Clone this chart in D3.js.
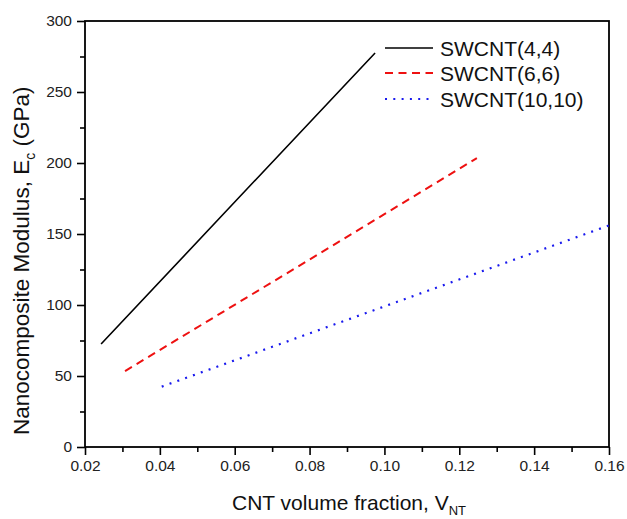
<!DOCTYPE html>
<html>
<head>
<meta charset="utf-8">
<script src="https://cdn.jsdelivr.net/npm/d3@7"></script>
<style>
  html, body { margin: 0; padding: 0; background: #fff; }
  svg { display: block; font-family: Arial, "Liberation Sans", sans-serif; }
</style>
</head>
<body>
<svg id="chart" width="627" height="519"></svg>
<script>
// Elastic modulus of the nanocomposite versus CNT volume fraction
const seriesNames = ["SWCNT(4,4)", "SWCNT(6,6)", "SWCNT(10,10)"];
const fraction44 = [0.0243, 0.060, 0.0975];
const modulus44  = [72.5, 172.5, 277.5];
const fraction66 = [0.0307, 0.080, 0.1247];
const modulus66  = [53.5, 132, 203.5];
const fraction1010 = [0.0405, 0.100, 0.160];
const modulus1010  = [42.5, 99, 156];
const xTicks = [0.02, 0.04, 0.06, 0.08, 0.10, 0.12, 0.14, 0.16];
const xMinorTicks = [0.03, 0.05, 0.07, 0.09, 0.11, 0.13, 0.15];
const yTicks = [0, 50, 100, 150, 200, 250, 300];
const yMinorTicks = [25, 75, 125, 175, 225, 275];

const colors = ["#000000", "#ee1111", "#1a1aee"];
const dashes = [null, "8,5.5", "2,6.3"];
const widths = [1.6, 2, 2.2];

const svg = d3.select("#chart");
const plotLeft = 85, plotRight = 609, plotTop = 21, plotBottom = 447;

const x = d3.scaleLinear().domain([0.02, 0.16]).range([plotLeft, plotRight]);
const y = d3.scaleLinear().domain([0, 300]).range([plotBottom, plotTop]);

const series = [
  fraction44.map((v, i) => [v, modulus44[i]]),
  fraction66.map((v, i) => [v, modulus66[i]]),
  fraction1010.map((v, i) => [v, modulus1010[i]])
];

// frame
svg.append("rect")
  .attr("x", plotLeft).attr("y", plotTop)
  .attr("width", plotRight - plotLeft).attr("height", plotBottom - plotTop)
  .attr("fill", "none").attr("stroke", "#000").attr("stroke-width", 1.8);

// x axis
svg.append("g").attr("transform", `translate(0,${plotBottom})`)
  .call(d3.axisBottom(x).tickValues(xTicks).tickFormat(d3.format(".2f")).tickSize(8).tickPadding(5));
svg.append("g").attr("transform", `translate(0,${plotBottom})`)
  .call(d3.axisBottom(x).tickValues(xMinorTicks).tickFormat("").tickSize(5));

// y axis
svg.append("g").attr("transform", `translate(${plotLeft},0)`)
  .call(d3.axisLeft(y).tickValues(yTicks).tickFormat(d3.format("d")).tickSize(8).tickPadding(5));
svg.append("g").attr("transform", `translate(${plotLeft},0)`)
  .call(d3.axisLeft(y).tickValues(yMinorTicks).tickFormat("").tickSize(5));

svg.selectAll(".domain").remove();
svg.selectAll(".tick line").attr("stroke", "#000").attr("stroke-width", 1.6);
svg.selectAll(".tick text").attr("fill", "#222").style("font-size", "15.5px")
  .style("font-family", "Arial, 'Liberation Sans', sans-serif");

// data lines
const line = d3.line().x(d => x(d[0])).y(d => y(d[1]));
series.forEach((pts, i) => {
  svg.append("path")
    .datum(pts)
    .attr("d", line)
    .attr("fill", "none")
    .attr("stroke", colors[i])
    .attr("stroke-width", widths[i])
    .attr("stroke-dasharray", dashes[i]);
});

// legend
const legend = svg.append("g");
const legendY = [48, 73, 99];
seriesNames.forEach((name, i) => {
  legend.append("line")
    .attr("x1", 385).attr("x2", 433)
    .attr("y1", legendY[i]).attr("y2", legendY[i])
    .attr("stroke", colors[i]).attr("stroke-width", widths[i])
    .attr("stroke-dasharray", dashes[i]);
  legend.append("text")
    .attr("x", 440).attr("y", legendY[i] + 7.5)
    .style("font-size", "21px").attr("fill", "#111")
    .text(name);
});

// axis titles
const xt = svg.append("text")
  .attr("x", 232).attr("y", 510)
  .style("font-size", "21px").attr("fill", "#111");
xt.append("tspan").text("CNT volume fraction, V");
xt.append("tspan").attr("dy", 4.5).style("font-size", "13px").text("NT");

const yt = svg.append("text")
  .attr("transform", "translate(29,435) rotate(-90)")
  .style("font-size", "22.5px").attr("fill", "#111");
yt.append("tspan").text("Nanocomposite Modulus, E");
yt.append("tspan").attr("dy", 6).style("font-size", "14px").text("c");
yt.append("tspan").attr("dy", -6).text(" (GPa)");
</script>
</body>
</html>
